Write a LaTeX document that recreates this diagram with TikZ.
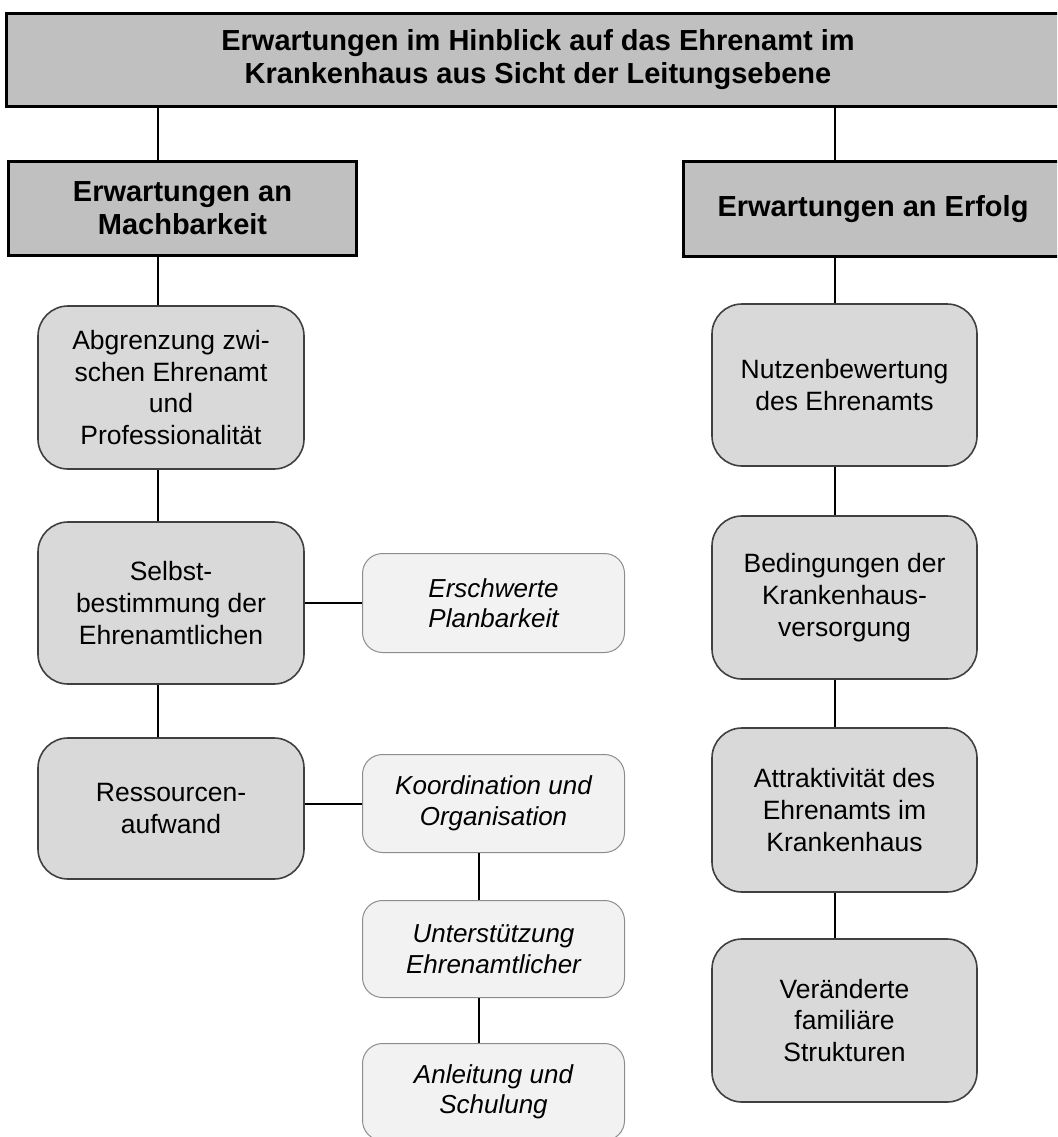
\documentclass[tikz,border=0pt]{standalone}
\usepackage{fontspec}
\setmainfont{Liberation Sans}

\definecolor{headfill}{RGB}{192,192,192}
\definecolor{mainfill}{RGB}{217,217,217}
\definecolor{subfill}{RGB}{242,242,242}
\definecolor{mainline}{RGB}{64,64,64}
\definecolor{subline}{RGB}{140,140,140}

\tikzset{
  headbox/.style={draw=black, line width=3pt, fill=headfill, inner sep=0pt,
    align=center, font=\bfseries\fontsize{29}{33}\selectfont},
  mainbox/.style={draw=mainline, line width=1.6pt, fill=mainfill,
    rounded corners=30pt, inner sep=0pt, align=center, minimum width=266pt,
    font=\fontsize{26.5}{31.7}\selectfont},
  subbox/.style={draw=subline, line width=1pt, fill=subfill,
    rounded corners=20pt, inner sep=0pt, align=center, minimum width=262pt,
    font=\itshape\fontsize{26}{30.5}\selectfont},
  link/.style={draw=black, line width=2pt}
}

\begin{document}
\begin{tikzpicture}[x=1pt,y=-1pt]
\useasboundingbox (0,0) rectangle (1057,1137);
\clip (0,0) rectangle (1057,1137);

% title and the two headings
\node[headbox, minimum width=1063pt, minimum height=93pt] (title) at (538,60)
  {Erwartungen im Hinblick auf das Ehrenamt im\\Krankenhaus aus Sicht der Leitungsebene};
\node[headbox, minimum width=348pt, minimum height=94pt] (mach) at (182.5,208.5)
  {Erwartungen an\\Machbarkeit};
\node[headbox, minimum width=379pt, minimum height=95pt] (erf) at (873,209)
  {Erwartungen an Erfolg};

% left column
\node[mainbox, minimum height=163pt] (abgr) at (171,387.5)
  {Abgrenzung zwi-\\schen Ehrenamt\\und\\Professionalität};
\node[mainbox, minimum height=162pt] (selbst) at (171,603)
  {Selbst-\\bestimmung der\\Ehrenamtlichen};
\node[mainbox, minimum height=141pt] (ress) at (171,808.5)
  {Ressourcen-\\aufwand};

% sub-items
\node[subbox, minimum height=99pt] (plan) at (493.5,603)
  {Erschwerte\\Planbarkeit};
\node[subbox, minimum height=98pt] (koord) at (493.5,803.5)
  {Koordination und\\Organisation};
\node[subbox, minimum height=97pt] (unter) at (493.5,949)
  {Unterstützung\\Ehrenamtlicher};
\node[subbox, minimum height=97pt] (anl) at (493.5,1092)
  {Anleitung und\\Schulung};

% right column
\node[mainbox, minimum width=265pt, minimum height=162pt] (nutz) at (844.5,385)
  {Nutzenbewertung\\des Ehrenamts};
\node[mainbox, minimum width=265pt, minimum height=163pt] (bed) at (844.5,597.5)
  {Bedingungen der\\Krankenhaus-\\versorgung};
\node[mainbox, minimum width=265pt, minimum height=164pt] (attr) at (844.5,810)
  {Attraktivität des\\Ehrenamts im\\Krankenhaus};
\node[mainbox, minimum width=265pt, minimum height=163pt] (ver) at (844.5,1020.5)
  {Veränderte\\familiäre\\Strukturen};

% connector lanes
\coordinate (lx) at (158,0);
\coordinate (rx) at (835,0);
\coordinate (sx) at (479,0);

% connectors
\draw[link] (title.south -| lx) -- (mach.north -| lx);
\draw[link] (title.south -| rx) -- (erf.north -| rx);
\draw[link] (mach.south -| lx) -- (abgr.north -| lx);
\draw[link] (abgr.south -| lx) -- (selbst.north -| lx);
\draw[link] (selbst.south -| lx) -- (ress.north -| lx);
\draw[link] (selbst.east) -- (plan.west);
\draw[link] (koord.west -| ress.east) -- (koord.west);
\draw[link] (koord.south -| sx) -- (unter.north -| sx);
\draw[link] (unter.south -| sx) -- (anl.north -| sx);
\draw[link] (erf.south -| rx) -- (nutz.north -| rx);
\draw[link] (nutz.south -| rx) -- (bed.north -| rx);
\draw[link] (bed.south -| rx) -- (attr.north -| rx);
\draw[link] (attr.south -| rx) -- (ver.north -| rx);
\end{tikzpicture}
\end{document}
